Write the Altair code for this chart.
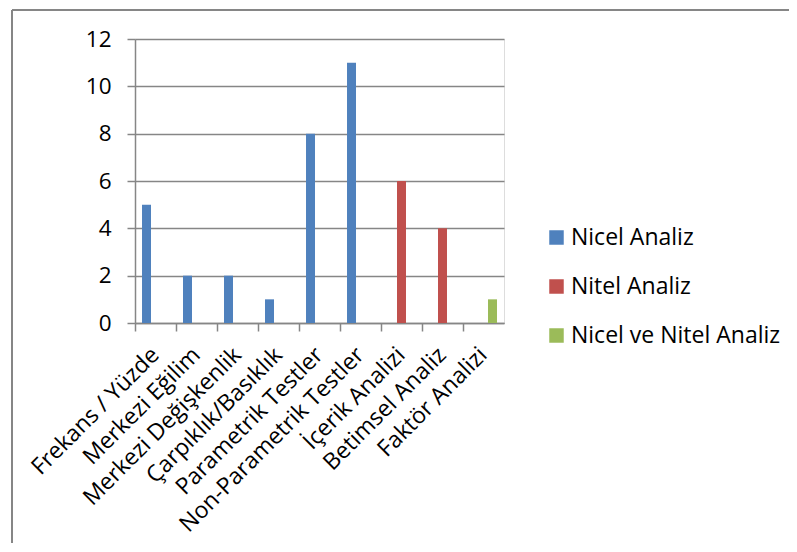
import altair as alt
import pandas as pd

categories = ["Frekans / Yüzde", "Merkezi Eğilim", "Merkezi Değişkenlik",
              "Çarpıklık/Basıklık", "Parametrik Testler", "Non-Parametrik Testler",
              "İçerik Analizi", "Betimsel Analiz", "Faktör Analizi"]
series_names = ["Nicel Analiz", "Nitel Analiz", "Nicel ve Nitel Analiz"]
series_of_cat = ["Nicel Analiz"] * 6 + ["Nitel Analiz"] * 2 + ["Nicel ve Nitel Analiz"]
values = [5, 2, 2, 1, 8, 11, 6, 4, 1]
colors = ["#4F81BD", "#C0504D", "#9BBB59"]

df = pd.DataFrame({"cat": categories, "series": series_of_cat, "value": values})

FONT = "Open Sans"

bars = alt.Chart(df).mark_bar().encode(
    x=alt.X("cat:N", sort=categories, title=None,
            scale=alt.Scale(paddingInner=0, paddingOuter=0),
            axis=alt.Axis(labelAngle=-45, labelAlign="right", labelBaseline="middle",
                          bandPosition=0, tickSize=8, labelPadding=20,
                          labelFontSize=23, labelFont=FONT, labelColor="black",
                          labelLimit=400,
                          domainColor="#868686", tickColor="#868686",
                          domainWidth=1.5, tickWidth=1.5, grid=False,
                          labelOverlap=False)),
    xOffset=alt.XOffset("series:N", sort=series_names,
                        scale=alt.Scale(domain=series_names, paddingInner=0, paddingOuter=0.78)),
    y=alt.Y("value:Q", title=None,
            scale=alt.Scale(domain=[0, 12], nice=False),
            axis=alt.Axis(values=[0, 2, 4, 6, 8, 10, 12], tickSize=8, labelPadding=16,
                          labelFontSize=22.5, labelFont=FONT, labelColor="black",
                          domainColor="#868686", tickColor="#868686",
                          domainWidth=1.5, tickWidth=1.5,
                          grid=True, gridColor="#868686", gridWidth=1.5)),
    color=alt.Color("series:N", sort=series_names,
                    scale=alt.Scale(domain=series_names, range=colors),
                    legend=alt.Legend(title=None, orient="none", legendX=410, legendY=187,
                                      symbolType="square", symbolSize=210,
                                      symbolStrokeWidth=0, labelFontSize=23,
                                      labelFont=FONT, labelColor="black",
                                      labelLimit=400,
                                      rowPadding=25, labelOffset=3, padding=0)),
)

frame_left = alt.Chart(df).mark_rule(color="#868686", strokeWidth=2).encode(
    x=alt.value(-123), y=alt.value(-29), y2=alt.value(530))
frame_top = alt.Chart(df).mark_rule(color="#868686", strokeWidth=2).encode(
    x=alt.value(-123), x2=alt.value(670), y=alt.value(-29))

chart = alt.layer(bars, frame_left, frame_top).properties(
    width=369, height=284,
    autosize=alt.AutoSizeParams(type="none"),
    padding={"left": 127, "top": 31, "right": 285, "bottom": 220},
).configure_view(stroke=None).configure(background="white")

chart.save("out.html", embed_options={"renderer": "svg", "actions": False})
